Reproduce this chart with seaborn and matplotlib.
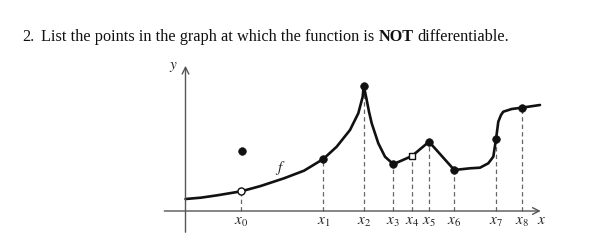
import matplotlib
matplotlib.use("Agg")
import matplotlib.pyplot as plt
import seaborn as sns
import pandas as pd

# ---- data (units: x along the horizontal axis, y above it) ----
curve_x = [0.0, 1.52, 3.18, 5.58, 7.52, 9.85, 11.85, 13.78, 15.12, 16.45, 17.28, 17.72, 17.82,
           17.98, 18.12, 18.35, 18.62, 19.28, 19.95, 20.78, 22.65, 24.35, 26.88,
           28.45, 29.45, 30.28, 30.78, 31.05, 31.28, 31.55, 31.78, 32.62, 33.62, 35.45]
curve_y = [1.2, 1.33, 1.57, 1.97, 2.5, 3.27, 4.03, 5.2, 6.43, 8.1, 9.77, 11.43, 12.53,
           11.8, 11.1, 9.93, 8.77, 6.77, 5.43, 4.68, 5.5, 6.93, 4.1,
           4.27, 4.33, 4.77, 5.43, 7.17, 8.93, 9.6, 9.93, 10.2, 10.33, 10.6]

tick_labels = ["$x_0$", "$x_1$", "$x_2$", "$x_3$", "$x_4$", "$x_5$", "$x_6$", "$x_7$", "$x_8$"]
tick_x = [5.58, 13.78, 17.82, 20.78, 22.65, 24.35, 26.88, 31.05, 33.62]
tick_y = [1.97, 5.2, 12.53, 4.68, 5.5, 6.93, 4.1, 7.17, 10.33]
point_kind = ["open", "filled", "filled", "filled", "opensq", "filled", "filled", "filled", "filled"]

iso_x = [5.65]
iso_y = [6.0]

title_parts = [("2.", "normal"), ("List the points in the graph at which the function is", "normal"),
               ("NOT", "bold"), ("differentiable.", "normal")]

# ---- figure ----
sns.set_style("white")
plt.rcParams["font.family"] = ["Liberation Serif", "DejaVu Serif"]
plt.rcParams["mathtext.fontset"] = "stix"

W, H = 612, 249
fig = plt.figure(figsize=(W / 100, H / 100), dpi=100)
ax = fig.add_axes([0, 0, 1, 1])
ax.set_xlim(-18.55, 42.65)
ax.set_ylim(-3.8, 21.1)
ax.axis("off")

axis_col = "#555555"
# coordinate axes with arrows
ax.annotate("", xy=(35.8, 0), xytext=(-2.4, 0),
            arrowprops=dict(arrowstyle="->", color=axis_col, lw=1.0, mutation_scale=12))
ax.annotate("", xy=(0, 14.8), xytext=(0, -2.4),
            arrowprops=dict(arrowstyle="->", color=axis_col, lw=1.0, mutation_scale=12))

# dashed drop lines
ax.vlines(tick_x, 0, tick_y, colors="#666666", linestyles=(0, (3.5, 2.5)), lw=0.9, zorder=1)

# curve
df = pd.DataFrame({"x": curve_x, "y": curve_y})
sns.lineplot(data=df, x="x", y="y", sort=False, estimator=None, color="#111111",
             lw=1.9, ax=ax, zorder=2)

# points
pts = pd.DataFrame({"x": tick_x, "y": tick_y, "kind": point_kind})
filled = pts[pts.kind == "filled"]
sns.scatterplot(x=filled.x, y=filled.y, color="#111111", s=30, edgecolor="#111111",
                linewidth=0.5, ax=ax, zorder=3)
sns.scatterplot(x=iso_x, y=iso_y, color="#111111", s=30, edgecolor="#111111",
                linewidth=0.5, ax=ax, zorder=3)
op = pts[pts.kind == "open"]
sns.scatterplot(x=op.x, y=op.y, color="white", s=26, edgecolor="#111111",
                linewidth=1.0, marker="o", ax=ax, zorder=4)
osq = pts[pts.kind == "opensq"]
sns.scatterplot(x=osq.x, y=osq.y, color="white", s=20, edgecolor="#111111",
                linewidth=1.0, marker="s", ax=ax, zorder=4)

# tick labels
for lab, xv in zip(tick_labels, tick_x):
    ax.text(xv, -1.1, lab, ha="center", va="center", fontsize=11, color="#222222")
ax.text(35.6, -0.95, "$x$", ha="center", va="center", fontsize=11, color="#222222")
ax.text(-1.2, 14.4, "$y$", ha="center", va="center", fontsize=11, color="#222222")
ax.text(9.5, 4.3, "$f$", ha="center", va="center", fontsize=11, color="#222222")

# title with bold word
fig.canvas.draw()
renderer = fig.canvas.get_renderer()
fs = 11.7
probe = fig.text(0, 0, "a a", fontsize=fs)
probe2 = fig.text(0, 0, "aa", fontsize=fs)
space_w = probe.get_window_extent(renderer).width - probe2.get_window_extent(renderer).width
probe.remove(); probe2.remove()

xpos = 22
ybase = (H - 41) / H
for i, (s, wgt) in enumerate(title_parts):
    t = fig.text(xpos / W, ybase, s, fontsize=fs, fontweight=wgt, va="baseline",
                 ha="left", color="#111111")
    bb = t.get_window_extent(renderer)
    if i == 0:
        xpos = 41
    else:
        xpos = bb.x1 + space_w

fig.savefig("out.png", dpi=100, facecolor="white")
